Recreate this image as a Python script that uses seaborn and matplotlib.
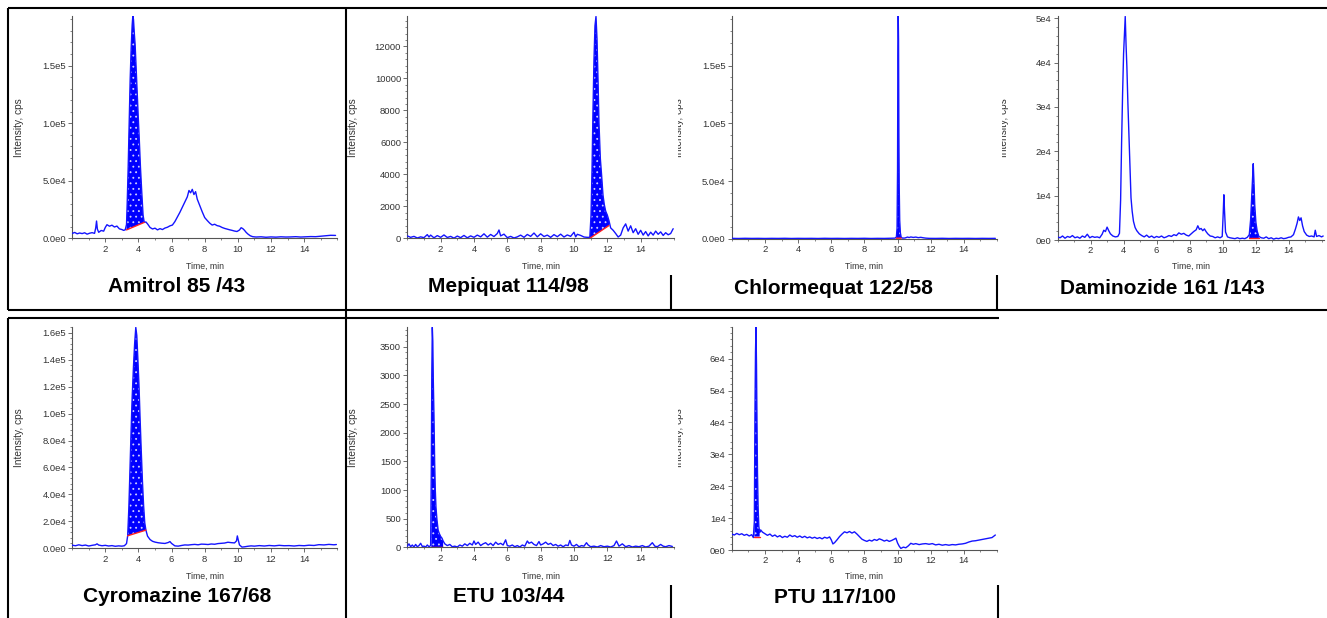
import numpy as np
import seaborn as sns
import matplotlib.pyplot as plt
from matplotlib.lines import Line2D
from matplotlib.patches import Rectangle
from matplotlib.ticker import AutoMinorLocator, MultipleLocator

sns.set_style("white")
plt.rcParams['font.family'] = ['Liberation Sans', 'DejaVu Sans']
plt.rcParams['hatch.linewidth'] = 0.6

W, H = 1327, 618

# ---- data (time in min, intensity in cps) ----
titles = ['Amitrol 85 /43', 'Mepiquat 114/98', 'Chlormequat 122/58', 'Daminozide 161 /143',
          'Cyromazine 167/68', 'ETU 103/44', 'PTU 117/100']

amitrol_t = [0.0, 0.15, 0.3, 0.45, 0.6, 0.75, 0.9, 1.05, 1.2, 1.35,
             1.42, 1.47, 1.52, 1.6, 1.75, 1.9, 2.0, 2.1, 2.25, 2.4,
             2.55, 2.7, 2.85, 3.0, 3.1, 3.2, 3.28, 3.32, 3.38, 3.44,
             3.5, 3.56, 3.62, 3.66, 3.7, 3.75, 3.8, 3.86, 3.92, 3.98,
             4.05, 4.12, 4.2, 4.28, 4.35, 4.45, 4.55, 4.7, 4.85, 5.0,
             5.15, 5.3, 5.45, 5.6, 5.75, 5.9, 6.05, 6.2, 6.35, 6.5,
             6.65, 6.8, 6.95, 7.05, 7.15, 7.25, 7.35, 7.45, 7.55, 7.7,
             7.85, 8.0, 8.15, 8.3, 8.45, 8.6, 8.75, 8.9, 9.05, 9.2,
             9.35, 9.5, 9.65, 9.8, 9.95, 10.1, 10.2, 10.3, 10.4, 10.5,
             10.6, 10.75, 10.9, 11.1, 11.4, 11.7, 12.0, 12.3, 12.6, 12.9,
             13.2, 13.5, 13.8, 14.1, 14.4, 14.7, 15.0, 15.3, 15.6, 15.9]
amitrol_i = [4200, 5100, 3900, 4600, 4100, 4800, 3600, 4400, 4900, 4300,
             9000, 15000, 8000, 5200, 6800, 6200, 9500, 11800, 10500, 11400,
             9800, 10600, 8200, 7600, 6900, 7300, 12000, 30000, 62000, 100000,
             138000, 165000, 185000, 193000, 190000, 178000, 168000, 148000, 128000, 108000,
             86000, 62000, 40000, 20000, 13800, 14200, 12500, 9400, 8100, 8800,
             7300, 8400, 7600, 8900, 9600, 10800, 11500, 14500, 18500, 22500,
             27000, 31500, 36000, 41500, 39500, 42500, 38000, 40500, 34000, 28500,
             23000, 18000, 15500, 13200, 11500, 12200, 11000, 10500, 9400, 8600,
             8000, 7400, 6900, 6300, 5900, 7200, 9200, 8400, 7000, 5200,
             3800, 2200, 1400, 1100, 1300, 900, 1200, 1000, 1300, 1100,
             1200, 1400, 1100, 1300, 1500, 1400, 1800, 2200, 2600, 2500]
amitrol_peak = [3.28, 4.35]
amitrol_base = [7300, 13800]

mepiquat_t = [0.0, 0.2, 0.4, 0.6, 0.8, 1.0, 1.2, 1.3, 1.4, 1.6,
              1.8, 2.0, 2.2, 2.4, 2.6, 2.8, 3.0, 3.2, 3.4, 3.6,
              3.8, 4.0, 4.2, 4.4, 4.6, 4.8, 5.0, 5.2, 5.4, 5.5,
              5.6, 5.8, 6.0, 6.2, 6.4, 6.6, 6.8, 7.0, 7.2, 7.4,
              7.6, 7.8, 8.0, 8.2, 8.4, 8.6, 8.8, 9.0, 9.2, 9.4,
              9.6, 9.8, 10.0, 10.1, 10.2, 10.4, 10.6, 10.8, 10.95, 11.02,
              11.08, 11.14, 11.2, 11.26, 11.32, 11.38, 11.44, 11.5, 11.58, 11.66,
              11.74, 11.82, 11.9, 12.0, 12.1, 12.2, 12.35, 12.5, 12.65, 12.8,
              12.95, 13.1, 13.25, 13.4, 13.55, 13.7, 13.85, 14.0, 14.15, 14.3,
              14.45, 14.6, 14.75, 14.9, 15.05, 15.2, 15.35, 15.5, 15.65, 15.8,
              15.95]
mepiquat_i = [150, 60, 120, 20, 90, 40, 230, 80, 200, 30,
              170, 60, 210, 50, 120, 10, 140, 40, 180, 30,
              150, 60, 200, 90, 280, 70, 240, 110, 300, 520,
              150, 260, 40, 120, 20, 90, 200, 60, 240, 120,
              330, 90, 280, 110, 200, 60, 230, 100, 260, 80,
              210, 120, 380, 90, 250, 180, 80, 60, 60, 1400,
              4200, 8000, 11200, 13300, 13870, 12500, 10000, 7200, 5000, 3900,
              2700, 2100, 1700, 1450, 1100, 650, 500, 300, 80, 200,
              650, 900, 450, 780, 350, 600, 250, 500, 200, 420,
              150, 380, 200, 450, 250, 400, 180, 350, 220, 300,
              600]
mepiquat_peak = [10.95, 12.1]
mepiquat_base = [0, 800]

chlormequat_t = [0.0, 0.4, 0.8, 1.2, 1.6, 2.0, 2.4, 2.8, 3.2, 3.6,
                 4.0, 4.4, 4.8, 5.2, 5.6, 6.0, 6.4, 6.8, 7.2, 7.6,
                 8.0, 8.4, 8.8, 9.2, 9.6, 9.85, 9.93, 9.97, 10.0, 10.02,
                 10.04, 10.06, 10.08, 10.1, 10.13, 10.17, 10.22, 10.3, 10.45, 10.6,
                 10.7, 10.8, 10.95, 11.1, 11.25, 11.4, 11.55, 11.7, 11.9, 12.3,
                 12.7, 13.1, 13.5, 13.9, 14.3, 14.7, 15.1, 15.5, 15.9]
chlormequat_i = [300, 200, 350, 250, 300, 200, 300, 250, 350, 200,
                 300, 250, 300, 200, 350, 250, 300, 200, 300, 250,
                 350, 200, 300, 250, 400, 500, 1500, 9000, 60000, 158000,
                 193000, 172000, 92000, 45000, 16000, 5000, 1200, 500, 600, 1400,
                 1000, 1500, 1100, 1400, 900, 1200, 800, 500, 300, 250,
                 350, 200, 300, 250, 300, 200, 300, 250, 300]
chlormequat_peak = [9.93, 10.22]
chlormequat_base = [400, 500]

daminozide_t = [0.0, 0.15, 0.3, 0.45, 0.6, 0.75, 0.9, 1.05, 1.2, 1.35,
                1.5, 1.65, 1.8, 1.95, 2.1, 2.25, 2.4, 2.55, 2.7, 2.8,
                2.9, 3.0, 3.1, 3.2, 3.35, 3.5, 3.65, 3.75, 3.82, 3.88,
                3.94, 4.0, 4.05, 4.1, 4.15, 4.2, 4.26, 4.32, 4.38, 4.45,
                4.52, 4.6, 4.7, 4.8, 4.95, 5.1, 5.25, 5.4, 5.55, 5.7,
                5.85, 6.0, 6.15, 6.3, 6.45, 6.6, 6.75, 6.9, 7.05, 7.2,
                7.35, 7.5, 7.65, 7.8, 7.95, 8.1, 8.25, 8.4, 8.5, 8.6,
                8.7, 8.8, 8.9, 9.0, 9.1, 9.25, 9.4, 9.55, 9.7, 9.85,
                9.98, 10.04, 10.08, 10.12, 10.18, 10.3, 10.45, 10.6, 10.75, 10.9,
                11.05, 11.2, 11.35, 11.5, 11.62, 11.7, 11.76, 11.82, 11.86, 11.9,
                11.95, 12.02, 12.1, 12.2, 12.35, 12.5, 12.65, 12.8, 12.95, 13.1,
                13.25, 13.4, 13.55, 13.7, 13.85, 14.0, 14.15, 14.3, 14.42, 14.52,
                14.6, 14.68, 14.76, 14.85, 14.95, 15.1, 15.25, 15.4, 15.55, 15.62,
                15.7, 15.85, 16.0, 16.1]
daminozide_i = [700, 500, 900, 400, 800, 600, 1000, 500, 700, 400,
                900, 600, 1300, 500, 800, 600, 700, 500, 1300, 2200,
                1900, 2900, 2100, 1400, 900, 700, 800, 1500, 9000, 22000,
                33000, 42000, 46500, 50400, 44000, 39000, 31000, 24000, 17000, 9500,
                6500, 4200, 2800, 2100, 1400, 1000, 700, 1100, 600, 900,
                500, 800, 600, 900, 500, 700, 1000, 800, 1200, 1000,
                1600, 1300, 1500, 1100, 900, 1400, 1900, 2300, 3200, 2400,
                2600, 2100, 2500, 1900, 1400, 900, 800, 500, 700, 500,
                800, 6000, 10200, 6500, 1800, 700, 500, 400, 300, 500,
                300, 400, 300, 600, 1200, 4500, 9000, 14000, 17200, 13500,
                8000, 4000, 2000, 800, 500, 400, 700, 300, 500, 200,
                400, 300, 500, 300, 400, 600, 700, 1200, 2500, 3800,
                5200, 4400, 5000, 3200, 1900, 1100, 800, 900, 700, 2200,
                800, 1000, 700, 900]
daminozide_peak = [11.62, 12.2]
daminozide_base = [400, 400]

cyromazine_t = [0.0, 0.2, 0.4, 0.6, 0.8, 1.0, 1.2, 1.4, 1.5, 1.6,
                1.8, 2.0, 2.2, 2.4, 2.6, 2.8, 3.0, 3.15, 3.28, 3.35,
                3.42, 3.48, 3.55, 3.62, 3.7, 3.77, 3.84, 3.9, 3.96, 4.03,
                4.1, 4.17, 4.24, 4.31, 4.38, 4.45, 4.55, 4.7, 4.85, 5.0,
                5.2, 5.4, 5.6, 5.8, 5.9, 6.0, 6.2, 6.4, 6.6, 6.8,
                7.0, 7.2, 7.4, 7.6, 7.8, 8.0, 8.2, 8.4, 8.6, 8.8,
                9.0, 9.2, 9.4, 9.6, 9.8, 9.92, 9.97, 10.03, 10.1, 10.25,
                10.4, 10.6, 10.8, 11.0, 11.3, 11.6, 11.9, 12.2, 12.5, 12.8,
                13.1, 13.4, 13.7, 14.0, 14.3, 14.6, 14.9, 15.2, 15.5, 15.8,
                15.95]
cyromazine_i = [2300, 1900, 2600, 2000, 2400, 1700, 2200, 2600, 3300, 2400,
                1900, 2200, 1700, 2000, 1500, 1800, 1600, 1900, 3500, 9300,
                30000, 55000, 85000, 112000, 135000, 152000, 164000, 158000, 142000, 122000,
                96000, 72000, 50000, 32000, 19000, 13500, 9000, 6500, 5200, 4600,
                4100, 3800, 3600, 4300, 5000, 3600, 1800, 1600, 2100, 2500,
                2400, 2700, 2900, 2600, 3100, 3000, 2800, 3200, 3000, 3500,
                3700, 3900, 4500, 4200, 4000, 5500, 9200, 6000, 2500, 900,
                1100, 1500, 1800, 1600, 2000, 1700, 2100, 1800, 2200, 1900,
                2000, 1700, 2100, 1900, 2300, 2100, 2700, 2500, 2900, 2600,
                2800]
cyromazine_peak = [3.35, 4.45]
cyromazine_base = [9300, 13500]

etu_t = [0.0, 0.1, 0.2, 0.3, 0.4, 0.5, 0.6, 0.7, 0.8, 0.9,
         1.0, 1.1, 1.2, 1.3, 1.4, 1.44, 1.47, 1.5, 1.53, 1.56,
         1.6, 1.64, 1.68, 1.72, 1.78, 1.85, 1.92, 2.0, 2.08, 2.15,
         2.25, 2.4, 2.55, 2.7, 2.85, 3.0, 3.15, 3.3, 3.45, 3.6,
         3.75, 3.9, 4.0, 4.1, 4.25, 4.4, 4.55, 4.7, 4.85, 5.0,
         5.15, 5.3, 5.45, 5.6, 5.75, 5.9, 6.0, 6.15, 6.3, 6.45,
         6.6, 6.75, 6.9, 7.05, 7.2, 7.3, 7.45, 7.6, 7.75, 7.9,
         8.0, 8.15, 8.3, 8.45, 8.6, 8.75, 8.9, 9.05, 9.2, 9.35,
         9.5, 9.65, 9.75, 9.85, 10.0, 10.15, 10.3, 10.45, 10.6, 10.75,
         10.85, 11.0, 11.2, 11.4, 11.6, 11.8, 12.0, 12.2, 12.4, 12.55,
         12.7, 12.9, 13.1, 13.3, 13.5, 13.7, 13.9, 14.1, 14.3, 14.5,
         14.7, 14.85, 15.0, 15.2, 15.35, 15.5, 15.7, 15.9]
etu_i = [20, 60, 10, 40, 5, 50, 10, 30, 70, 15,
         20, 5, 40, 10, 30, 1400, 3000, 3840, 3600, 2900,
         2300, 1500, 1000, 700, 480, 300, 240, 190, 160, 110,
         60, 30, 50, 10, 20, 5, 40, 20, 60, 30,
         70, 40, 110, 50, 90, 30, 60, 80, 40, 70,
         30, 90, 50, 70, 40, 130, 30, 20, 40, 10,
         30, 5, 40, 20, 110, 70, 90, 50, 30, 100,
         40, 60, 90, 50, 70, 30, 50, 20, 40, 10,
         40, 30, 120, 40, 20, 50, 10, 30, 20, 80,
         40, 10, 20, 5, 30, 10, 20, 5, 30, 110,
         20, 60, 10, 30, 5, 20, 10, 30, 5, 20,
         80, 20, 10, 50, 20, 10, 30, 15]
etu_peak = [1.44, 2.15]
etu_base = [5, 5]

ptu_t = [0.0, 0.15, 0.3, 0.45, 0.6, 0.75, 0.9, 1.05, 1.2, 1.3,
         1.36, 1.4, 1.43, 1.46, 1.49, 1.52, 1.55, 1.59, 1.63, 1.68,
         1.74, 1.85, 2.0, 2.15, 2.3, 2.45, 2.6, 2.75, 2.9, 3.05,
         3.2, 3.35, 3.5, 3.65, 3.8, 3.95, 4.1, 4.25, 4.4, 4.55,
         4.7, 4.85, 5.0, 5.15, 5.3, 5.45, 5.6, 5.75, 5.9, 6.0,
         6.1, 6.2, 6.35, 6.5, 6.65, 6.8, 6.95, 7.1, 7.25, 7.4,
         7.55, 7.7, 7.85, 8.0, 8.15, 8.3, 8.45, 8.6, 8.75, 8.9,
         9.05, 9.2, 9.35, 9.5, 9.65, 9.8, 9.9, 10.0, 10.1, 10.2,
         10.35, 10.5, 10.65, 10.8, 10.95, 11.1, 11.3, 11.5, 11.7, 11.9,
         12.1, 12.3, 12.5, 12.7, 12.9, 13.1, 13.3, 13.5, 13.7, 13.9,
         14.1, 14.3, 14.5, 14.7, 14.9, 15.1, 15.3, 15.5, 15.7, 15.9]
ptu_i = [5000, 4700, 5200, 4800, 5100, 4600, 4900, 4400, 4800, 3900,
         9000, 45000, 62000, 69800, 58000, 40000, 24000, 13000, 7500, 5500,
         6300, 5600, 5100, 4600, 5000, 4300, 4700, 4100, 4500, 3900,
         4300, 4000, 4700, 4200, 4500, 4000, 4400, 3900, 4300, 3800,
         4100, 3700, 4000, 3600, 3900, 3500, 4000, 3700, 4100, 3200,
         1900, 2300, 3200, 4200, 5000, 5700, 5400, 5800, 5300, 5700,
         5000, 4200, 3400, 3000, 2700, 3100, 2800, 3300, 3000, 3500,
         3200, 2800, 3100, 2700, 3000, 3400, 3700, 2200, 1200, 500,
         900, 700, 1300, 2100, 1800, 2000, 1700, 1900, 2000, 1800,
         2000, 1600, 1800, 1500, 1700, 1500, 1700, 1600, 1800, 1900,
         2100, 2500, 2800, 2900, 3100, 3300, 3500, 3700, 3900, 4700]
ptu_peak = [1.36, 1.68]
ptu_base = [4200, 4200]

# y ticks and their printed labels
amitrol_yticks = [0, 5e4, 1e5, 1.5e5]
amitrol_ylabels = ['0.0e0', '5.0e4', '1.0e5', '1.5e5']
mepiquat_yticks = [0, 2000, 4000, 6000, 8000, 10000, 12000]
mepiquat_ylabels = ['0', '2000', '4000', '6000', '8000', '10000', '12000']
chlormequat_yticks = [0, 5e4, 1e5, 1.5e5]
chlormequat_ylabels = ['0.0e0', '5.0e4', '1.0e5', '1.5e5']
daminozide_yticks = [0, 1e4, 2e4, 3e4, 4e4, 5e4]
daminozide_ylabels = ['0e0', '1e4', '2e4', '3e4', '4e4', '5e4']
cyromazine_yticks = [0, 2e4, 4e4, 6e4, 8e4, 1e5, 1.2e5, 1.4e5, 1.6e5]
cyromazine_ylabels = ['0.0e0', '2.0e4', '4.0e4', '6.0e4', '8.0e4', '1.0e5', '1.2e5', '1.4e5', '1.6e5']
etu_yticks = [0, 500, 1000, 1500, 2000, 2500, 3000, 3500]
etu_ylabels = ['0', '500', '1000', '1500', '2000', '2500', '3000', '3500']
ptu_yticks = [0, 1e4, 2e4, 3e4, 4e4, 5e4, 6e4]
ptu_ylabels = ['0e0', '1e4', '2e4', '3e4', '4e4', '5e4', '6e4']
time_ticks = [2, 4, 6, 8, 10, 12, 14]

series = [
    (amitrol_t, amitrol_i, amitrol_peak, amitrol_base, amitrol_yticks, amitrol_ylabels),
    (mepiquat_t, mepiquat_i, mepiquat_peak, mepiquat_base, mepiquat_yticks, mepiquat_ylabels),
    (chlormequat_t, chlormequat_i, chlormequat_peak, chlormequat_base, chlormequat_yticks, chlormequat_ylabels),
    (daminozide_t, daminozide_i, daminozide_peak, daminozide_base, daminozide_yticks, daminozide_ylabels),
    (cyromazine_t, cyromazine_i, cyromazine_peak, cyromazine_base, cyromazine_yticks, cyromazine_ylabels),
    (etu_t, etu_i, etu_peak, etu_base, etu_yticks, etu_ylabels),
    (ptu_t, ptu_i, ptu_peak, ptu_base, ptu_yticks, ptu_ylabels),
]

# ---- layout, in pixels of the 1327x618 image ----
# left, top, right, bottom of plot area, x max, y max
boxes = [(72.2, 16, 337.2, 238.3, 16.0, 1.93e5),
         (407.3, 16, 674.0, 238.3, 16.0, 13900),
         (731.8, 16, 997.0, 238.7, 16.0, 1.93e5),
         (1057.6, 16, 1324.0, 240.0, 16.15, 5.05e4),
         (72.2, 326.7, 337.2, 548.3, 16.0, 1.645e5),
         (407.3, 326.7, 674.0, 547.3, 16.0, 3850),
         (731.8, 326.7, 997.0, 550.0, 16.0, 7.0e4)]
# y-label centre x, centre y, clip at x (None = no clip)
ylab_pos = [(18.8, 128, None), (353.3, 128, None), (679.5, 128, 678.0), (1004.0, 128, 1001.5),
            (18.8, 438, None), (353.3, 438, None), (679.5, 438, 678.0)]
title_pos = [(177, 287), (508.7, 287), (833, 288), (1162, 288),
             (176.7, 596.7), (509, 596), (834.7, 597.7)]

BLUE = '#0000ff'
AXC = '#555555'


def fx(px):
    return px / W


def fy(py):
    return 1 - py / H


fig = plt.figure(figsize=(W / 100, H / 100), dpi=100)

for k, (t, inten, peak, base, yt, yl) in enumerate(series):
    l, tp, r, b, xmax, ymax = boxes[k]
    ax = fig.add_axes([fx(l), fy(b), (r - l) / W, (b - tp) / H])
    t = np.asarray(t)
    inten = np.asarray(inten, dtype=float)

    # integrated peak: filled with white dots down to the red baseline
    m = (t >= peak[0]) & (t <= peak[1])
    bl = np.interp(t[m], peak, base)
    ax.fill_between(t[m], bl, inten[m], where=inten[m] >= bl, interpolate=True,
                    facecolor=BLUE, edgecolor='#d0d0ff', hatch='...', linewidth=0, zorder=2)
    sns.lineplot(x=t, y=inten, ax=ax, color='#1414ff', linewidth=1.0,
                 estimator=None, sort=False, zorder=3)
    ax.plot(peak, base, color='#ff2020', linewidth=1.0, zorder=4)

    ax.set_xlim(0, xmax)
    ax.set_ylim(0, ymax)
    ax.set_xlabel('')
    ax.set_ylabel('')
    ax.set_xticks(time_ticks)
    ax.set_xticklabels([str(v) for v in time_ticks])
    ax.set_yticks(yt)
    ax.set_yticklabels(yl)
    ax.xaxis.set_minor_locator(MultipleLocator(1))
    ax.yaxis.set_minor_locator(AutoMinorLocator(5))
    for s in ['top', 'right']:
        ax.spines[s].set_visible(False)
    for s in ['left', 'bottom']:
        ax.spines[s].set_color(AXC)
        ax.spines[s].set_linewidth(0.8)
    ax.tick_params(which='major', labelsize=6.8, labelcolor='#333333', color=AXC,
                   length=3, width=0.6, pad=1.5, left=True, bottom=True)
    ax.tick_params(which='minor', color=AXC, length=1.5, width=0.5, left=True, bottom=True)
    ax.set_facecolor('none')

    # axis captions
    fig.text(fx((l + r) / 2), fy(266 if tp < 100 else 576), 'Time, min',
             ha='center', va='center', fontsize=6.3, color='#333333')
    yx, yy, clipx = ylab_pos[k]
    lab = fig.text(fx(yx), fy(yy), 'Intensity, cps', rotation=90, ha='center', va='center',
                   fontsize=7.3, color='#333333')
    if clipx is not None:
        clip = Rectangle((fx(clipx), 0), 1, 1, transform=fig.transFigure,
                         facecolor='none', edgecolor='none')
        lab.set_clip_path(clip)

    tx, ty = title_pos[k]
    fig.text(fx(tx), fy(ty), titles[k], ha='center', va='center',
             fontsize=15, fontweight='bold', color='black')

# ---- table borders ----
border_segments = [
    ((8, 8), (1327, 8)),
    ((8, 8), (8, 310)),
    ((345.5, 8), (345.5, 618)),
    ((8, 310), (1327, 310)),
    ((8, 318), (999, 318)),
    ((8, 318), (8, 618)),
    ((670.5, 275), (670.5, 310)),
    ((997, 275), (997, 310)),
    ((670.5, 585), (670.5, 618)),
    ((997.5, 585), (997.5, 618)),
]
for (x0, y0), (x1, y1) in border_segments:
    fig.add_artist(Line2D([fx(x0), fx(x1)], [fy(y0), fy(y1)], transform=fig.transFigure,
                          color='black', linewidth=1.5, solid_capstyle='butt'))

fig.savefig('out.png', dpi=100)
